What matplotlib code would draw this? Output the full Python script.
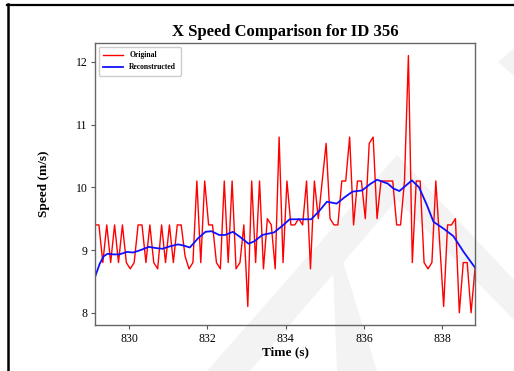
import numpy as np
import matplotlib
matplotlib.use('Agg')
import matplotlib.pyplot as plt
from matplotlib.patches import Polygon
from matplotlib.lines import Line2D

plt.rcParams['font.family'] = ['Liberation Serif', 'DejaVu Serif']

# Original speed samples (0.1 s apart)
t_start = 829.13
orig_speed = [
    9.4, 9.4, 8.8, 9.4, 8.8, 9.4, 8.8, 9.4, 8.8, 8.7,
    8.8, 9.4, 9.4, 8.8, 9.4, 8.8, 8.7, 9.4, 8.8, 9.4,
    8.8, 9.4, 9.4, 8.9, 8.7, 8.8, 10.1, 8.8, 10.1, 9.4,
    9.4, 8.8, 8.7, 10.1, 8.8, 10.1, 8.7, 8.8, 9.4, 8.1,
    10.1, 8.8, 10.1, 8.7, 9.5, 9.4, 8.7, 10.8, 8.8, 10.1,
    9.4, 9.4, 9.5, 9.4, 10.1, 8.7, 10.1, 9.5, 10.1, 10.7,
    9.5, 9.4, 9.4, 10.1, 10.1, 10.8, 9.4, 10.1, 10.1, 9.5,
    10.7, 10.8, 9.5, 10.1, 10.1, 10.1, 10.1, 9.4, 9.4, 10.1,
    12.1, 8.8, 10.1, 10.1, 8.8, 8.7, 8.8, 10.1, 9.1, 8.1,
    9.4, 9.4, 9.5, 8.0, 8.8, 8.8, 8.0, 8.7,
]
orig_time = t_start + 0.1 * np.arange(len(orig_speed))

# Reconstructed (smoothed) speed
rec_time = [829.13, 829.25, 829.35, 829.45, 829.6, 829.75, 829.95, 830.1, 830.3,
            830.5, 830.7, 830.85, 831.05, 831.25, 831.4, 831.55, 831.75, 831.95,
            832.1, 832.3, 832.45, 832.65, 832.85, 833.05, 833.2, 833.4, 833.7,
            833.9, 834.1, 834.4, 834.65, 834.85, 835.05, 835.3, 835.5, 835.7,
            835.95, 836.15, 836.33, 836.6, 836.75, 836.9, 837.05, 837.22, 837.4,
            837.6, 837.77, 838.03, 838.28, 838.54, 838.83]
rec_speed = [8.57, 8.78, 8.90, 8.94, 8.93, 8.93, 8.97, 8.96, 9.00,
             9.05, 9.03, 9.02, 9.06, 9.09, 9.07, 9.04, 9.18, 9.29,
             9.30, 9.24, 9.24, 9.29, 9.20, 9.10, 9.14, 9.24, 9.28,
             9.38, 9.49, 9.49, 9.49, 9.62, 9.77, 9.74, 9.84, 9.93,
             9.95, 10.05, 10.12, 10.06, 9.98, 9.94, 10.02, 10.11, 10.00,
             9.72, 9.45, 9.34, 9.22, 8.97, 8.72]

x_ticks = [830, 832, 834, 836, 838]
y_ticks = [8, 9, 10, 11, 12]

fig = plt.figure(figsize=(5.14, 3.71), dpi=100)
W, H = 514, 371

# faint watermark shapes behind the plot
wm = '#f3f3f3'
def px(pts):
    return [(x / W, 1 - y / H) for x, y in pts]
for pts in [
    [(207, 371), (250, 371), (397, 200), (397, 155)],
    [(397, 155), (514, 280), (514, 320), (397, 200)],
    [(333, 267), (343, 262), (377, 371), (337, 371)],
    [(498, 62), (514, 48), (514, 76)],
]:
    fig.patches.append(Polygon(px(pts), closed=True, transform=fig.transFigure,
                               facecolor=wm, edgecolor='none', zorder=-1))

ax = fig.add_axes([95 / W, 1 - 325.3 / H, 380 / W, 282.3 / H])
ax.set_facecolor('none')

ax.plot(orig_time, orig_speed, color='#ff0000', lw=1.0, label='Original')
ax.plot(rec_time, rec_speed, color='#1010ff', lw=1.3, label='Reconstructed')

ax.set_xlim(orig_time[0], orig_time[-1])
ax.set_ylim(7.8, 12.3)
ax.set_xticks(x_ticks)
ax.set_yticks(y_ticks)
ax.tick_params(labelsize=8.5, length=3, width=0.8, color='#555555', pad=2.5)
for s in ax.spines.values():
    s.set_color('#666666')
    s.set_linewidth(1.0)

ax.set_title('X Speed Comparison for ID 356', fontsize=12, fontweight='bold', pad=5)
ax.set_xlabel('Time (s)', fontsize=9.5, fontweight='bold', labelpad=1)
ax.set_ylabel('Speed (m/s)', fontsize=9.5, fontweight='bold', labelpad=18)

leg = ax.legend(loc='upper left', prop={'size': 5.5, 'weight': 'bold'},
                handlelength=2.6, borderpad=0.6, labelspacing=0.5, framealpha=1)

# screenshot frame edges
fig.add_artist(Line2D([7 / W, 1], [1 - 5 / H, 1 - 5 / H], color='black', lw=1.6,
                      transform=fig.transFigure))
fig.add_artist(Line2D([7.5 / W, 7.5 / W], [0, 1 - 4 / H], color='black', lw=1.8,
                      transform=fig.transFigure))

fig.savefig('out.png', dpi=100)
